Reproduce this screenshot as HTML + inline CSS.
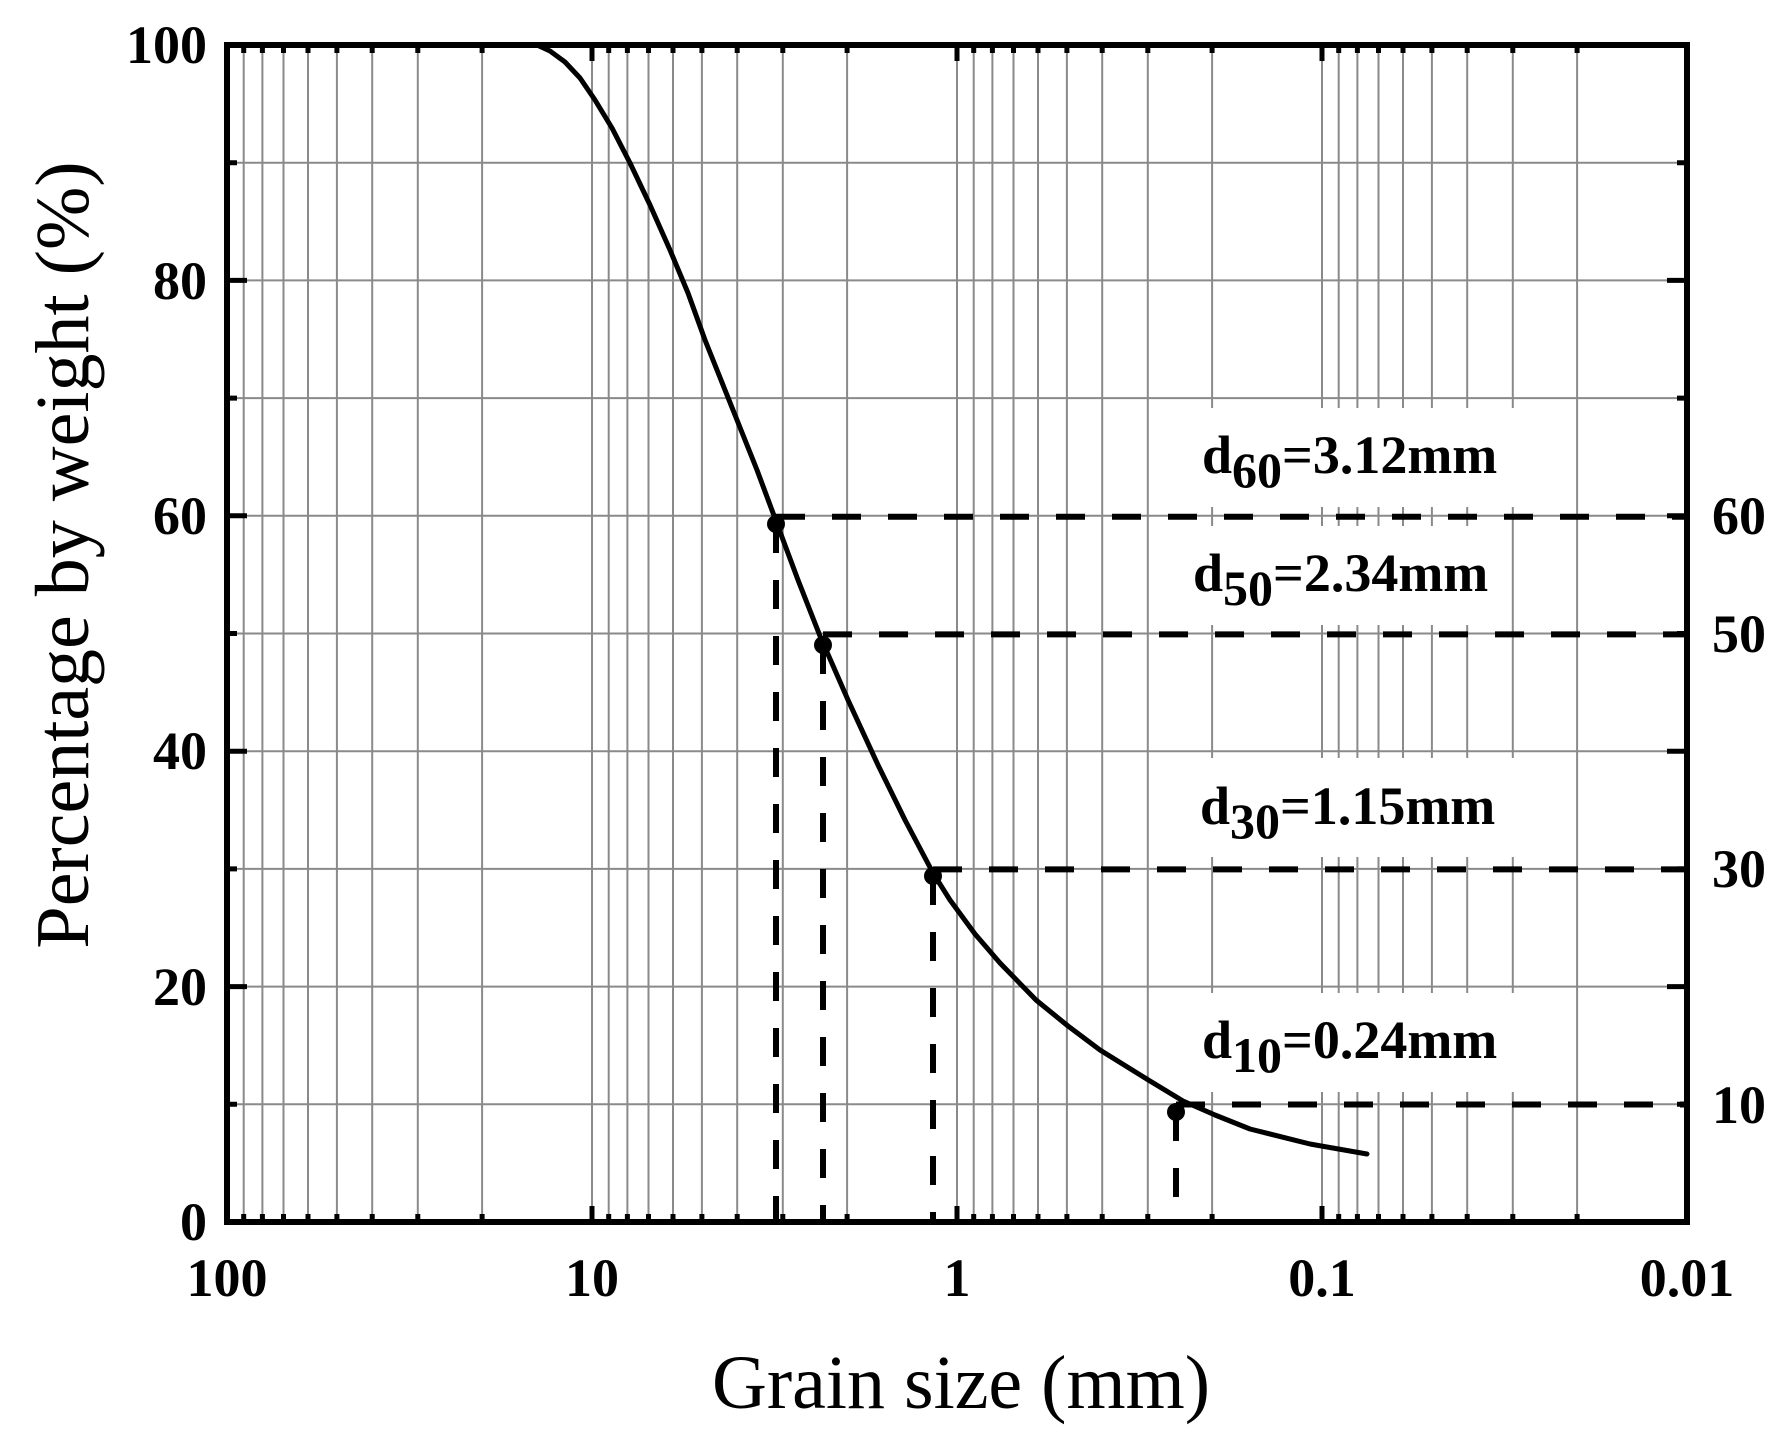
<!DOCTYPE html>
<html><head><meta charset="utf-8"><style>
html,body{margin:0;padding:0;background:#fff;}
svg{display:block;font-family:"Liberation Serif",serif;}
</style></head><body>
<svg width="1790" height="1441" viewBox="0 0 1790 1441" xmlns="http://www.w3.org/2000/svg">
<rect width="1790" height="1441" fill="#fff"/>
<path stroke="#8a8a8a" stroke-width="2" fill="none" d="
M243.7 45V1222M262.4 45V1222M283.5 45V1222M308 45V1222M336.9 45V1222M372.2 45V1222M417.8 45V1222M482.1 45V1222M592 45V1222
M608.7 45V1222M627.4 45V1222M648.5 45V1222M673 45V1222M701.9 45V1222M737.2 45V1222M782.8 45V1222M847.1 45V1222M957 45V1222
M973.7 45V1222M992.4 45V1222M1013.5 45V1222M1038 45V1222M1066.9 45V1222M1102.2 45V1222M1147.8 45V1222M1212.1 45V1222M1322 45V1222
M1338.7 45V1222M1357.4 45V1222M1378.5 45V1222M1403 45V1222M1431.9 45V1222M1467.2 45V1222M1512.8 45V1222M1577.1 45V1222
M227 1104.3H1687M227 986.6H1687M227 868.9H1687M227 751.2H1687M227 633.5H1687M227 515.8H1687M227 398.1H1687M227 280.4H1687M227 162.7H1687"/>
<g fill="#fff">
<rect x="1195" y="993" width="320" height="99"/>
<rect x="1195" y="758" width="320" height="99"/>
<rect x="1186" y="526" width="320" height="99"/>
<rect x="1195" y="408" width="320" height="99"/>
</g>
<path stroke="#000" stroke-width="5" fill="none" d="
M243.7 1222v-8M262.4 1222v-8M283.5 1222v-8M308 1222v-8M336.9 1222v-8M372.2 1222v-8M417.8 1222v-8M482.1 1222v-8M592 1222v-16
M608.7 1222v-8M627.4 1222v-8M648.5 1222v-8M673 1222v-8M701.9 1222v-8M737.2 1222v-8M782.8 1222v-8M847.1 1222v-8M957 1222v-16
M973.7 1222v-8M992.4 1222v-8M1013.5 1222v-8M1038 1222v-8M1066.9 1222v-8M1102.2 1222v-8M1147.8 1222v-8M1212.1 1222v-8M1322 1222v-16
M1338.7 1222v-8M1357.4 1222v-8M1378.5 1222v-8M1403 1222v-8M1431.9 1222v-8M1467.2 1222v-8M1512.8 1222v-8M1577.1 1222v-8
M243.7 45v8M262.4 45v8M283.5 45v8M308 45v8M336.9 45v8M372.2 45v8M417.8 45v8M482.1 45v8M592 45v16
M608.7 45v8M627.4 45v8M648.5 45v8M673 45v8M701.9 45v8M737.2 45v8M782.8 45v8M847.1 45v8M957 45v16
M973.7 45v8M992.4 45v8M1013.5 45v8M1038 45v8M1066.9 45v8M1102.2 45v8M1147.8 45v8M1212.1 45v8M1322 45v16
M1338.7 45v8M1357.4 45v8M1378.5 45v8M1403 45v8M1431.9 45v8M1467.2 45v8M1512.8 45v8M1577.1 45v8
M227 1104.3h10M227 986.6h20M227 868.9h10M227 751.2h20M227 633.5h10M227 515.8h20M227 398.1h10M227 280.4h20M227 162.7h10
M1687 1104.3h-10M1687 986.6h-20M1687 868.9h-10M1687 751.2h-20M1687 633.5h-10M1687 515.8h-20M1687 398.1h-10M1687 280.4h-20M1687 162.7h-10"/>
<g stroke="#000" stroke-width="6" stroke-dasharray="29 27" fill="none">
<path d="M776 516.8H1687M823 634.4H1687M933 869.4H1687M1176 1104.5H1687"/>
<path d="M776 524V1222M823 645V1222M933 876V1222M1176 1112V1222"/>
</g>
<polyline fill="none" stroke="#000" stroke-width="5" stroke-linecap="round" stroke-linejoin="round" points="537,45 550,51 565,62 580,78 595,100 612,128 630,163 650,205 670,250 688,293 705,340 721,380 737,420 757,470 776,521 798,580 820,636 848,700 878,765 905,820 933,873 950,900 975,934 1000,963 1036,1000 1068,1026 1100,1050 1150,1081 1183,1101 1215,1115 1250,1129 1310,1144 1367,1154"/>
<g fill="#000">
<circle cx="776" cy="524" r="9"/><circle cx="823" cy="645" r="9"/><circle cx="933" cy="876" r="9"/><circle cx="1176" cy="1112" r="9"/>
</g>
<rect x="227" y="45" width="1460" height="1177" fill="none" stroke="#000" stroke-width="6"/>
<g font-weight="bold" font-size="54" text-anchor="end">
<text x="207" y="1240">0</text><text x="207" y="1005">20</text><text x="207" y="769">40</text>
<text x="207" y="534">60</text><text x="207" y="299">80</text><text x="207" y="63">100</text>
</g>
<g font-weight="bold" font-size="54" text-anchor="start">
<text x="1712" y="534">60</text><text x="1712" y="652">50</text><text x="1712" y="887">30</text><text x="1712" y="1123">10</text>
</g>
<g font-weight="bold" font-size="54" text-anchor="middle">
<text x="227" y="1296">100</text><text x="592" y="1296">10</text><text x="957" y="1296">1</text>
<text x="1322" y="1296">0.1</text><text x="1687" y="1296">0.01</text>
</g>
<g font-weight="bold" font-size="54">
<text x="1202" y="473">d<tspan font-size="50" dy="14">60</tspan><tspan dy="-14">=3.12mm</tspan></text>
<text x="1193" y="591">d<tspan font-size="50" dy="14">50</tspan><tspan dy="-14">=2.34mm</tspan></text>
<text x="1200" y="824">d<tspan font-size="50" dy="14">30</tspan><tspan dy="-14">=1.15mm</tspan></text>
<text x="1202" y="1058">d<tspan font-size="50" dy="14">10</tspan><tspan dy="-14">=0.24mm</tspan></text>
</g>
<text x="961" y="1408" font-size="76" text-anchor="middle">Grain size (mm)</text>
<text transform="translate(88,555) rotate(-90)" font-size="76" text-anchor="middle">Percentage by weight (%)</text>
</svg>
</body></html>
